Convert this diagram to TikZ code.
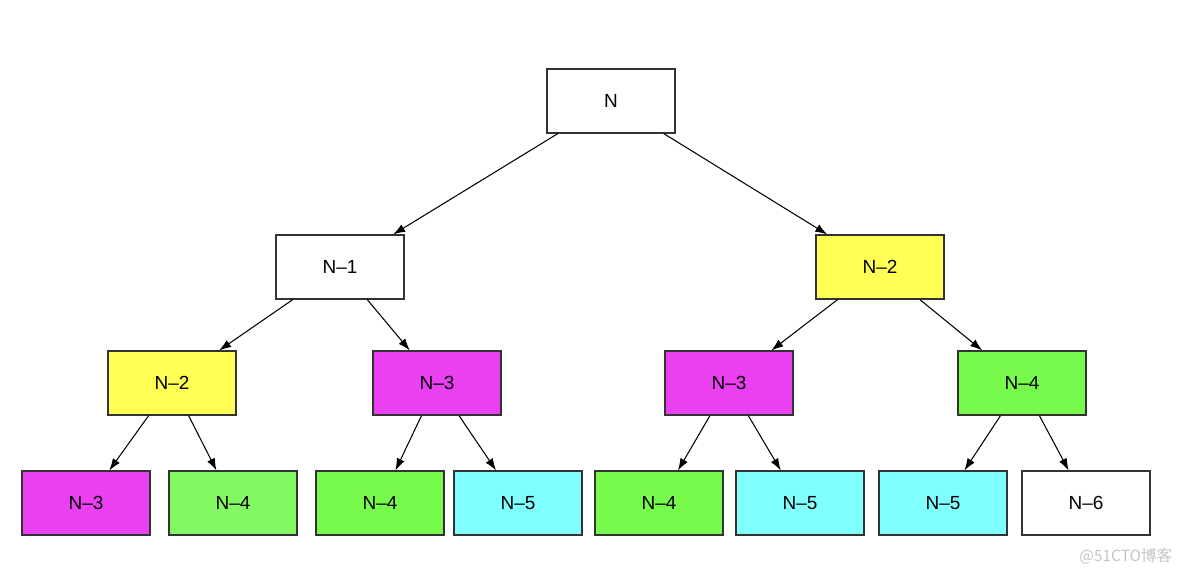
\documentclass[tikz,border=0pt]{standalone}
\usepackage{fontspec}
\setmainfont{Liberation Sans}
\newfontfamily\cjk{Noto Sans CJK SC}
\usepackage{tikz}
\usetikzlibrary{arrows.meta}
\definecolor{magCol}{HTML}{EA40F2}
\definecolor{yelCol}{HTML}{FFFF55}
\definecolor{grnCol}{HTML}{78FA4C}
\definecolor{ltgCol}{HTML}{82F962}
\definecolor{cyaCol}{HTML}{80FFFF}
\definecolor{boxEdge}{HTML}{333333}
\definecolor{markCol}{HTML}{C4C4C4}
\tikzset{
  call/.style={draw=boxEdge, fill=#1, line width=0.8pt, minimum width=3.2cm,
        minimum height=1.6cm, inner sep=0pt, font=\fontsize{13.5}{16}\selectfont},
  call/.default=white,
  rec/.style={-{Latex[length=3mm, width=2.1mm]}, line width=0.75pt},
}
\begin{document}
\begin{tikzpicture}[x=0.025cm, y=-0.025cm]
  \useasboundingbox (0,0) rectangle (1184,577);
  % root and first level
  \node[call] (n) at (611,101){N};
  \node[call] (a) at (340,267){N--1};
  \node[call=yelCol] (b) at (880,267){N--2};
  % second level
  \node[call=yelCol] (aa) at (172,383){N--2};
  \node[call=magCol] (ab) at (437,383){N--3};
  \node[call=magCol] (ba) at (729,383){N--3};
  \node[call=grnCol] (bb) at (1022,383){N--4};
  % leaves
  \node[call=magCol] (aaa) at (86,503){N--3};
  \node[call=ltgCol] (aab) at (233,503){N--4};
  \node[call=grnCol] (aba) at (380,503){N--4};
  \node[call=cyaCol] (abb) at (518,503){N--5};
  \node[call=grnCol] (baa) at (659,503){N--4};
  \node[call=cyaCol] (bab) at (800,503){N--5};
  \node[call=cyaCol] (bba) at (943,503){N--5};
  \node[call] (bbb) at (1086,503){N--6};
  \foreach \p/\c in {n/a, n/b, a/aa, a/ab, b/ba, b/bb,
                     aa/aaa, aa/aab, ab/aba, ab/abb,
                     ba/baa, ba/bab, bb/bba, bb/bbb}
    \draw[rec] (\p) -- (\c);
  \node[font=\cjk\fontsize{11}{13}\selectfont, text=markCol, anchor=east] (wm) at (1177,556){@51CTO博客};
\end{tikzpicture}
\end{document}
